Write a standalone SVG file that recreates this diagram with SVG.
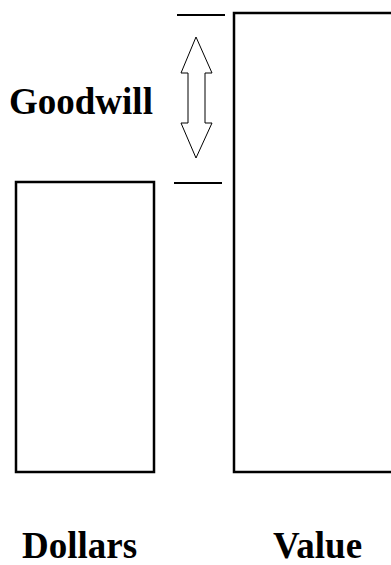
<svg xmlns="http://www.w3.org/2000/svg" width="391" height="565" viewBox="0 0 391 565">
  <style>
    .box { fill: #ffffff; stroke: #000000; stroke-width: 2.5; }
    .tick { stroke: #000000; stroke-width: 2; fill: none; }
    .arrow { fill: #ffffff; stroke: #000000; stroke-width: 1; stroke-linejoin: miter; }
    .label { font-family: "Liberation Serif", "Times New Roman", serif; font-weight: bold; font-size: 37px; fill: #000000; }
  </style>
  <rect width="391" height="565" fill="#ffffff"/>

  <g id="dollars">
    <rect class="box" x="16" y="182" width="138" height="290"/>
    <text class="label" x="22" y="558">Dollars</text>
  </g>

  <g id="value">
    <rect class="box" x="234" y="13" width="160" height="459"/>
    <text class="label" x="273" y="558">Value</text>
  </g>

  <g id="goodwill">
    <text class="label" x="9" y="114">Goodwill</text>
  </g>

  <g id="connectors">
    <line class="tick" x1="177" y1="15" x2="225" y2="15"/>
    <line class="tick" x1="174" y1="183" x2="222" y2="183"/>
    <polygon class="arrow" points="196,37 212,73 205,73 205,123 212,123 196,158 181,123 188,123 188,73 181,73"/>
  </g>
</svg>
